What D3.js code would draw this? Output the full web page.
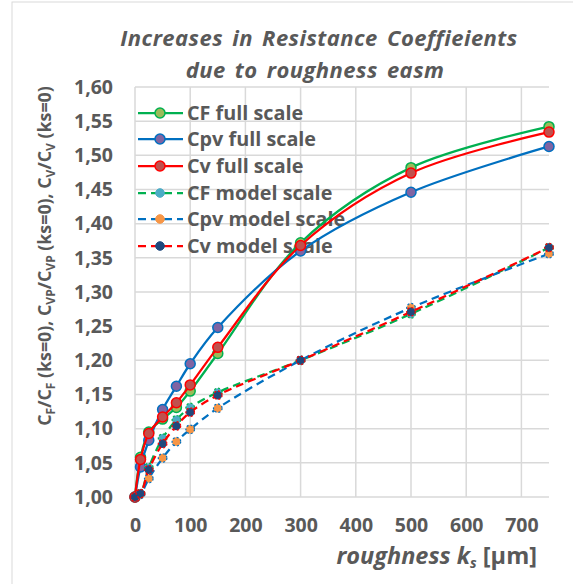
<!DOCTYPE html>
<html>
<head>
<meta charset="utf-8">
<script src="https://cdn.jsdelivr.net/npm/d3@7"></script>
<style>
  body { margin: 0; background: #fff; }
  svg text { font-family: "Open Sans", sans-serif; fill: #595959; }
</style>
</head>
<body>
<svg id="chart" width="573" height="584"></svg>
<script>
// roughness k_s values (µm)
const ks = [0, 10, 25, 50, 75, 100, 150, 300, 500, 750];

const cfFull = [1.000, 1.058, 1.095, 1.114, 1.131, 1.155, 1.210, 1.372, 1.482, 1.542];
const cpvFull = [1.000, 1.044, 1.083, 1.128, 1.162, 1.195, 1.248, 1.360, 1.446, 1.513];
const cvFull = [1.000, 1.055, 1.093, 1.117, 1.138, 1.164, 1.219, 1.368, 1.474, 1.534];
const cfModel = [1.000, 1.005, 1.043, 1.086, 1.113, 1.131, 1.153, 1.200, 1.268, 1.365];
const cpvModel = [1.000, 1.004, 1.027, 1.057, 1.081, 1.099, 1.130, 1.200, 1.277, 1.356];
const cvModel = [1.000, 1.005, 1.040, 1.078, 1.104, 1.124, 1.149, 1.200, 1.271, 1.365];

const seriesNames = [
  "CF full scale", "Cpv full scale", "Cv full scale",
  "CF model scale", "Cpv model scale", "Cv model scale"
];
const xTicks = [0, 100, 200, 300, 400, 500, 600, 700];
const yTicks = d3.range(0, 13).map((i) => 1 + i * 0.05);

const series = [
  { name: seriesNames[0], values: cfFull, line: "#00B050", fill: "#9BBB59", dashed: false },
  { name: seriesNames[1], values: cpvFull, line: "#0070C0", fill: "#8064A2", dashed: false },
  { name: seriesNames[2], values: cvFull, line: "#FF0000", fill: "#C0504D", dashed: false },
  { name: seriesNames[3], values: cfModel, line: "#00B050", fill: "#4BACC6", dashed: true },
  { name: seriesNames[4], values: cpvModel, line: "#0070C0", fill: "#F79646", dashed: true },
  { name: seriesNames[5], values: cvModel, line: "#FF0000", fill: "#1F497D", dashed: true }
];

const svg = d3.select("#chart");

// chart area border
svg.append("rect")
  .attr("x", 12).attr("y", 2)
  .attr("width", 600).attr("height", 620)
  .attr("fill", "none")
  .attr("stroke", "#D9D9D9")
  .attr("stroke-width", 1);

const x = d3.scaleLinear().domain([0, 750]).range([135, 549]);
const y = d3.scaleLinear().domain([1, 1.6]).range([497, 87]);

// grid
const gridG = svg.append("g");
gridG.selectAll("line.h")
  .data(yTicks)
  .join("line")
  .attr("class", "h")
  .attr("x1", x(0)).attr("x2", x(750))
  .attr("y1", (d) => y(d)).attr("y2", (d) => y(d))
  .attr("stroke", "#D9D9D9").attr("stroke-width", 1.5);
gridG.selectAll("line.v")
  .data(xTicks)
  .join("line")
  .attr("class", "v")
  .attr("x1", (d) => x(d)).attr("x2", (d) => x(d))
  .attr("y1", y(1)).attr("y2", y(1.6))
  .attr("stroke", "#D9D9D9").attr("stroke-width", 1.5);

// axes
const yAxis = d3.axisLeft(y)
  .tickValues(yTicks)
  .tickSize(0)
  .tickPadding(22)
  .tickFormat((d) => d3.format(".2f")(d).replace(".", ","));
const yAxisG = svg.append("g").attr("transform", `translate(${x(0)},0)`).call(yAxis);
yAxisG.select(".domain").remove();
yAxisG.selectAll("text")
  .attr("font-size", 19.5).attr("font-weight", "bold")
  .attr("font-family", "'Open Sans', sans-serif").attr("fill", "#595959");

const xAxis = d3.axisBottom(x).tickValues(xTicks).tickSize(0).tickPadding(21);
const xAxisG = svg.append("g").attr("transform", `translate(0,${y(1)})`).call(xAxis);
xAxisG.select(".domain").remove();
xAxisG.selectAll("text")
  .attr("font-size", 19.5).attr("font-weight", "bold")
  .attr("font-family", "'Open Sans', sans-serif").attr("fill", "#595959");

// title
const title = svg.append("text")
  .attr("text-anchor", "middle")
  .attr("font-size", 22).attr("font-weight", "bold").attr("font-style", "italic")
  .attr("letter-spacing", 0.45).attr("word-spacing", 3);
title.append("tspan").attr("x", 319).attr("y", 46).text("Increases in Resistance Coeffieients");
title.append("tspan").attr("x", 315).attr("y", 78).text("due to roughness easm");

// y axis title
const yTitle = svg.append("text")
  .attr("transform", "translate(51,256) rotate(-90)")
  .attr("text-anchor", "middle")
  .attr("font-size", 17.8).attr("font-weight", "bold");
const yParts = [
  ["C", false], ["F", true], ["/C", false], ["F", true], [" (ks=0), C", false], ["VP", true],
  ["/C", false], ["VP", true], [" (ks=0), C", false], ["V", true], ["/C", false], ["V", true],
  [" (ks=0)", false]
];
yParts.forEach(([t, sub], i) => {
  const prevSub = i > 0 && yParts[i - 1][1];
  const ts = yTitle.append("tspan").text(t)
    .attr("dy", sub && !prevSub ? 4 : !sub && prevSub ? -4 : 0);
  if (sub) ts.attr("font-size", 12);
});

// x axis title
const xTitle = svg.append("text")
  .attr("x", 537).attr("y", 564)
  .attr("text-anchor", "end")
  .attr("font-size", 23.5).attr("font-weight", "bold");
xTitle.append("tspan").attr("font-style", "italic").text("roughness k");
xTitle.append("tspan").attr("font-style", "italic").attr("font-size", 14).attr("dy", 4).text("s");
xTitle.append("tspan").attr("dy", -4).text(" [µm]");

// legend (drawn under the series, as in the original)
const legendY = [113, 139, 166, 193, 219, 246];
const legendG = svg.append("g");
series.forEach((s, i) => {
  const g = legendG.append("g").attr("transform", `translate(0,${legendY[i]})`);
  g.append("line")
    .attr("x1", 138).attr("x2", 183)
    .attr("stroke", s.line).attr("stroke-width", 2.25)
    .attr("stroke-dasharray", s.dashed ? "8,5" : null);
  g.append("circle")
    .attr("cx", 160).attr("r", s.dashed ? 4.3 : 5)
    .attr("fill", s.fill)
    .attr("stroke", s.dashed ? s.fill : s.line)
    .attr("stroke-width", s.dashed ? 1 : 1.5);
  g.append("text")
    .attr("x", 187).attr("y", 7)
    .attr("font-size", 19.8).attr("font-weight", "bold")
    .text(s.name);
});

// series
const line = d3.line()
  .x((d) => x(d.k))
  .y((d) => y(d.v))
  .curve(d3.curveCatmullRom.alpha(0.5));

series.forEach((s) => {
  const pts = ks.map((k, i) => ({ k, v: s.values[i] }));
  const g = svg.append("g");
  g.append("path")
    .datum(pts)
    .attr("d", line)
    .attr("fill", "none")
    .attr("stroke", s.line)
    .attr("stroke-width", 2.25)
    .attr("stroke-dasharray", s.dashed ? "8,5" : null);
  g.selectAll("circle")
    .data(pts)
    .join("circle")
    .attr("cx", (d) => x(d.k))
    .attr("cy", (d) => y(d.v))
    .attr("r", s.dashed ? 4.3 : 5)
    .attr("fill", s.fill)
    .attr("stroke", s.line)
    .attr("stroke-width", s.dashed ? 1.2 : 1.5)
    .attr("stroke-dasharray", s.dashed ? "2,2" : null);
});
</script>
</body>
</html>
